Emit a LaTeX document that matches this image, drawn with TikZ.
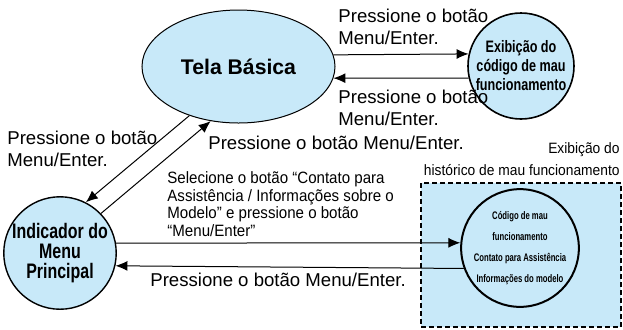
\documentclass[tikz,border=0pt]{standalone}
\usepackage{fontspec}
\setmainfont{Liberation Sans}
\newfontfamily\condbf[FakeStretch=0.76]{Liberation Sans Bold}
\newfontfamily\tinybf[FakeStretch=0.7]{Liberation Sans Bold}
\newfontfamily\condrm[FakeStretch=0.92]{Liberation Sans}
\usetikzlibrary{arrows.meta,shapes.geometric}
\definecolor{paleblue}{HTML}{C8E9F9}

\begin{document}
\begin{tikzpicture}[x=0.5pt,y=-0.5pt,
    state/.style={circle,draw,fill=paleblue,inner sep=0pt,align=center},
    lbl/.style={inner sep=0pt,align=left,anchor=west,font=\fontsize{9.3}{11}\selectfont},
    arr/.style={-{Latex[length=6pt,width=5pt]},line width=0.5pt}]
        \useasboundingbox (0,0) rectangle (623,329);
        % history area
        \draw[dash pattern=on 2.5pt off 1.5pt,line width=0.7pt,fill=paleblue] (421,183) rectangle (621,327);
        % states
        \node[ellipse,draw,fill=paleblue,minimum width=96.5pt,minimum height=56.5pt,inner sep=0pt,line width=0.5pt,font=\fontsize{10.6}{12}\selectfont\bfseries] (tela) at (238.5,66.5) {Tela Básica};
        \node[state,minimum size=53pt,line width=0.8pt,font=\fontsize{8.3}{9.5}\condbf] (erro) at (521,66) {Exibição do\\código de mau\\funcionamento};
        \node[state,minimum size=56pt,line width=0.7pt,font=\fontsize{10.5}{10}\condbf] (menu) at (60,253) {Indicador do\\Menu\\Principal};
        \node[circle,draw,inner sep=0pt,minimum size=54pt,line width=1pt,align=center,font=\fontsize{5.5}{10.5}\tinybf] (hist) at (520,248) {Código de mau\\funcionamento\\Contato para Assistência\\Informações do modelo};
        % transitions
        \draw[arr] (tela.7) -- (erro.167.4);
        \draw[arr] (erro.193.7) -- (tela.-7.6);
        \draw[arr] (tela.225) -- (menu.63);
        \draw[arr] (menu.44) -- (tela.243);
        \draw[arr] (menu.10) -- (hist.175);
        \draw[arr] (hist.200) -- (menu.-13.9);
        % labels
        \node[lbl] (toplbl) at (338,26.5) {Pressione o botão\\Menu/Enter.};
        \node[lbl] (backlbl) at (338,107.5) {Pressione o botão\\Menu/Enter.};
        \node[lbl] (leftlbl) at (7,148.5) {Pressione o botão\\Menu/Enter.};
        \node[lbl] (uplbl) at (208,143) {Pressione o botão Menu/Enter.};
        \node[lbl,font=\fontsize{8.2}{8.85}\condrm] (sellbl) at (167,204) {Selecione o botão “Contato para\\Assistência / Informações sobre o\\Modelo” e pressione o botão\\“Menu/Enter”};
        \node[lbl] (retlbl) at (150,280) {Pressione o botão Menu/Enter.};
        \node[inner sep=0pt,align=right,anchor=east,font=\fontsize{7.5}{11}\condrm] (histlbl) at (620,159) {Exibição do\\histórico de mau funcionamento};
\end{tikzpicture}
\end{document}
